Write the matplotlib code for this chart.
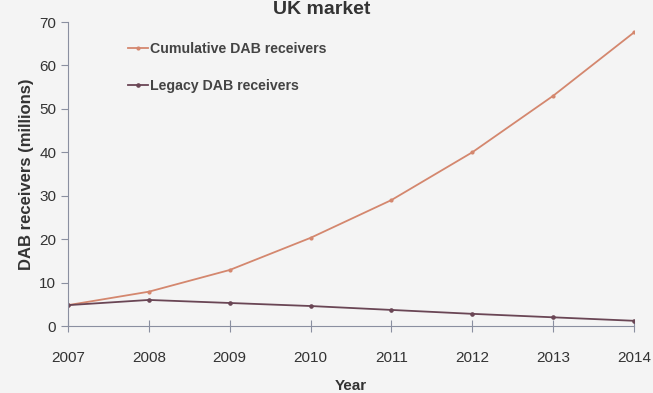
import matplotlib
matplotlib.use("Agg")
import matplotlib.pyplot as plt

years = [2007, 2008, 2009, 2010, 2011, 2012, 2013, 2014]
cumulative = [4.8, 7.9, 12.9, 20.3, 29.0, 40.0, 53.0, 67.6]
legacy = [4.8, 6.0, 5.3, 4.6, 3.7, 2.8, 2.0, 1.2]
yticks = [0, 10, 20, 30, 40, 50, 60, 70]

plt.rcParams['font.family'] = ['Liberation Sans', 'DejaVu Sans']
fig = plt.figure(figsize=(6.53, 3.93), dpi=100, facecolor='#f4f4f4')
ax = fig.add_axes([68/653, 1-326/393, (634-68)/653, (326-22)/393])
ax.set_facecolor('#f4f4f4')

ax.plot(years, cumulative, color='#d4876e', lw=1.3, marker='o', ms=2.0,
        label='Cumulative DAB receivers')
ax.plot(years, legacy, color='#6a4655', lw=1.3, marker='o', ms=2.3,
        label='Legacy DAB receivers')

ax.set_xlim(2007, 2014)
ax.set_ylim(0, 70)
ax.set_xticks(years)
ax.set_yticks(yticks)
for s in ['top', 'right']:
    ax.spines[s].set_visible(False)
for s in ['left', 'bottom']:
    ax.spines[s].set_color('#8a8fa0')
ax.tick_params(axis='x', direction='inout', length=8, color='#8a8fa0',
               labelsize=11, labelcolor='#333333', pad=14)
ax.tick_params(axis='y', direction='out', length=5, color='#8a8fa0',
               labelsize=11, labelcolor='#333333')
ax.set_xlabel('Year', fontsize=11, fontweight='bold', color='#333333', labelpad=10)
ax.set_ylabel('DAB receivers (millions)', fontsize=12, fontweight='bold',
              color='#333333', labelpad=4)
fig.text(322/653, 1-1/393, 'UK market', ha='center', va='top',
         fontsize=14, fontweight='bold', color='#333333')

leg = ax.legend(loc='upper left', bbox_to_anchor=(0.083, 0.975), frameon=False,
                fontsize=10.2, handlelength=1.4, handletextpad=0.2,
                labelspacing=1.6)
for t in leg.get_texts():
    t.set_fontweight('bold')
    t.set_color('#444444')

fig.savefig('out.png', dpi=100, facecolor=fig.get_facecolor())
